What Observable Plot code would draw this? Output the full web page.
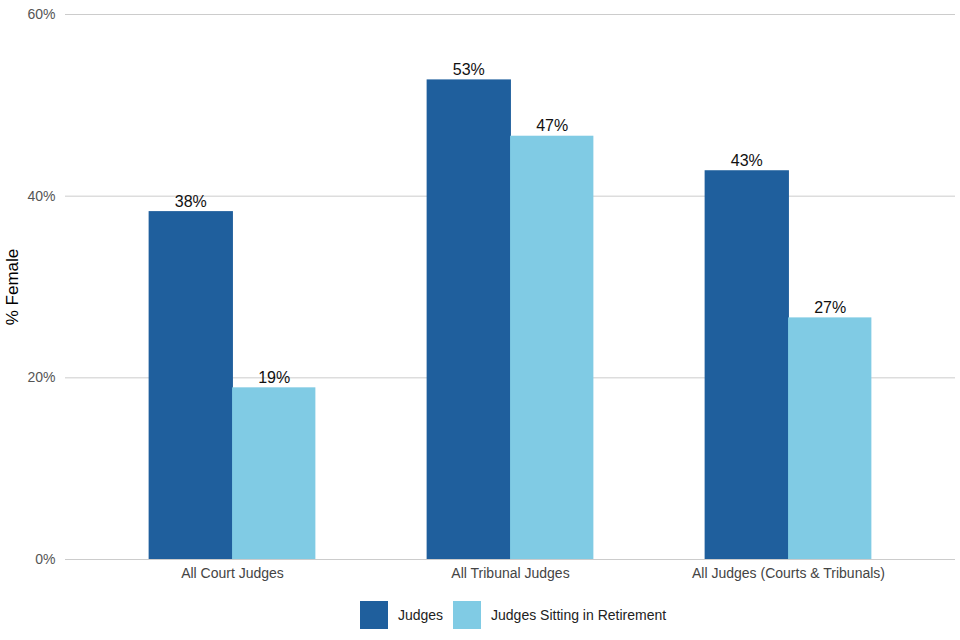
<!DOCTYPE html>
<html>
<head>
<meta charset="utf-8">
<script src="https://cdn.jsdelivr.net/npm/d3@7"></script>
<script src="https://cdn.jsdelivr.net/npm/@observablehq/plot@0.6"></script>
<style>
  body { margin: 0; background: #fff; font-family: "Liberation Sans", Arial, sans-serif; }
  #chart svg { display: block; }
  .legend { display: flex; justify-content: center; align-items: center; padding-left: 66px; height: 50px; font-size: 14px; color: #222; }
  .legend .item { display: flex; align-items: center; margin: 0 5px; }
  .legend .sw { width: 28px; height: 28px; margin-right: 10px; }
</style>
</head>
<body>
<div id="chart"></div>
<div class="legend" id="legend"></div>
<script>
const categories = ["All Court Judges", "All Tribunal Judges", "All Judges (Courts & Tribunals)"];
const series = ["Judges", "Judges Sitting in Retirement"];
const judges = [38.3, 52.8, 42.8];
const retirement = [18.9, 46.6, 26.6];
const yTicks = [0, 20, 40, 60];
const colors = ["#1f5f9d", "#80cbe4"];

const data = categories.flatMap((c, i) => [
  {category: c, series: series[0], value: judges[i]},
  {category: c, series: series[1], value: retirement[i]}
]);

// layout
const W = 960, ML = 65, MR = 5;
const outerPad = 0.1;
const step = (W - ML - MR) / (categories.length + 2 * outerPad);
const barW = step * 0.3;           // each bar is 30% of the category band
const gap = (step - 2 * barW) / 2;  // space on each side of the pair

const inner = {
  // the first bar runs 1px under the second so no seam shows between them
  [series[0]]: {insetLeft: gap, insetRight: gap + barW - 1, dx: -barW / 2},
  [series[1]]: {insetLeft: gap + barW, insetRight: gap, dx: barW / 2}
};

const barMarks = series.map(s => Plot.barY(data.filter(d => d.series === s), {
  x: "category", y: "value", fill: "series",
  insetLeft: inner[s].insetLeft, insetRight: inner[s].insetRight
}));
const textMarks = series.map(s => Plot.text(data.filter(d => d.series === s), {
  x: "category", y: "value", text: d => Math.round(d.value) + "%",
  dx: inner[s].dx, dy: -5, lineAnchor: "bottom", fontSize: 16, fill: "#111"
}));

const chart = Plot.plot({
  width: W,
  height: 590,
  marginLeft: ML,
  marginRight: MR,
  marginTop: 14,
  marginBottom: 31,
  style: {fontFamily: "'Liberation Sans', Arial, sans-serif", fontSize: "14px", background: "#fff"},
  x: {domain: categories, paddingInner: 0, paddingOuter: outerPad, label: null},
  y: {domain: [0, 60]},
  color: {domain: series, range: colors},
  marks: [
    Plot.ruleY(yTicks, {stroke: "#cccccc", strokeWidth: 1}),
    Plot.axisY(yTicks, {tickSize: 0, tickPadding: 10, tickFormat: d => d + "%", fill: "#555", fontSize: 14, label: null}),
    Plot.axisY([], {label: "% Female", labelAnchor: "center", labelArrow: "none", labelOffset: 60, fill: "#000", fontSize: 17, tickSize: 0}),
    Plot.axisX({tickSize: 0, tickPadding: 9, label: null, fill: "#444", fontSize: 14}),
    ...barMarks,
    ...textMarks
  ]
});
document.getElementById("chart").appendChild(chart);

const legend = document.getElementById("legend");
series.forEach((s, i) => {
  const item = document.createElement("div");
  item.className = "item";
  const sw = document.createElement("div");
  sw.className = "sw";
  sw.style.background = colors[i];
  const label = document.createElement("span");
  label.textContent = s;
  item.appendChild(sw);
  item.appendChild(label);
  legend.appendChild(item);
});
</script>
</body>
</html>
